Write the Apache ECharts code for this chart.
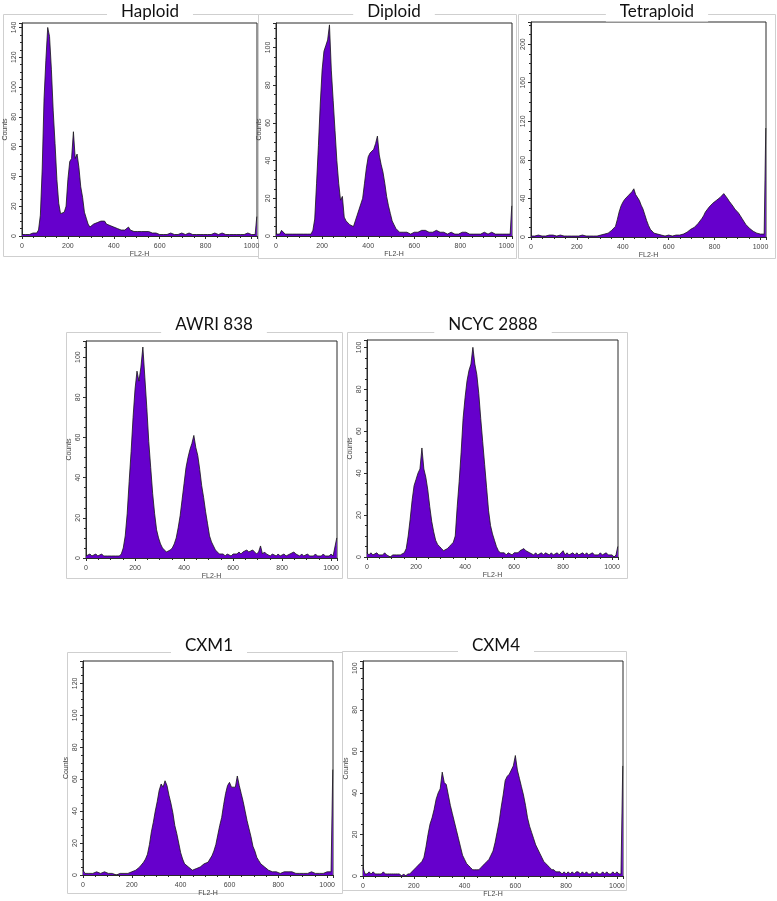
<!DOCTYPE html>
<html>
<head>
<meta charset="utf-8">
<script src="https://cdn.jsdelivr.net/npm/echarts@6/dist/echarts.min.js"></script>
<style>
html,body{margin:0;padding:0;background:#fff;}
#c{width:777px;height:901px;}
</style>
</head>
<body>
<div id="c"></div>
<script>
// ---- data (counts per 8-channel bin, channels 0..1016) ----
const binWidth = 8;
const xTicks = [0, 200, 400, 600, 800, 1000];
const titles = ['Haploid', 'Diploid', 'Tetraploid', 'AWRI 838', 'NCYC 2888', 'CXM1', 'CXM4'];

const haploid = [
  1,0,1,2,1,1,2,1,2,4,14,45,92,118,140,134,
  112,84,62,38,22,15,14,16,20,38,50,52,70,52,55,46,
  33,26,16,12,8,6,7,8,7,9,8,10,9,10,8,9,
  7,8,6,7,5,5,4,5,4,5,6,4,4,3,4,3,
  4,3,2,3,4,3,3,2,3,2,2,1,2,1,2,1,
  1,2,1,1,2,1,1,2,1,1,1,2,1,1,2,1,
  1,1,2,1,1,1,2,1,1,2,1,1,1,2,1,1,
  2,1,1,1,2,1,1,1,2,1,1,2,1,1,2,1
];
const diploid = [
  1,2,1,3,2,1,2,1,1,1,2,1,1,1,1,1,
  1,1,1,1,3,9,28,48,70,88,98,101,104,112,88,72,
  56,40,28,19,21,10,8,7,6,5,5,8,11,14,17,20,
  28,36,42,44,45,46,49,53,43,38,34,28,21,16,12,8,
  6,4,3,2,2,2,1,2,2,1,2,2,3,2,2,3,
  2,3,2,2,3,2,2,3,2,2,1,2,2,1,1,2,
  1,1,2,1,1,2,1,2,1,1,2,1,1,1,2,1,
  1,2,1,1,1,2,1,1,2,1,1,1,2,1,1,1
];
const tetraploid = [
  1,2,1,1,2,1,1,1,1,1,2,1,2,1,1,1,
  2,1,1,1,1,1,1,2,1,1,1,1,2,1,1,1,
  1,1,1,2,1,2,2,2,3,3,4,5,7,9,11,18,
  26,32,36,39,41,43,44,47,50,44,42,38,33,29,23,17,
  12,8,6,4,3,3,2,2,2,1,2,2,2,1,2,2,
  3,2,3,3,4,5,6,8,9,10,12,14,16,19,22,26,
  28,31,33,35,37,38,39,41,43,45,44,40,37,35,32,29,
  27,25,22,19,16,13,11,9,7,6,5,4,4,3,3,3
];
const awri838 = [
  1,1,2,1,1,2,1,1,2,1,1,1,1,1,1,1,
  1,1,2,5,11,22,38,53,70,84,93,88,95,105,90,75,
  58,45,32,22,14,10,7,5,4,3,3,4,5,7,10,15,
  21,29,37,45,50,54,57,61,55,51,44,36,30,23,17,11,
  8,6,4,3,2,2,2,1,2,2,1,2,2,2,3,2,
  3,3,4,3,3,4,3,2,3,6,2,3,2,2,1,2,
  2,1,2,1,1,2,1,1,2,2,3,2,2,1,2,1,
  1,2,1,1,1,2,1,1,1,2,1,1,1,2,1,1
];
const ncyc2888 = [
  2,1,2,1,1,2,1,1,1,2,1,1,0,1,1,1,
  1,1,1,2,4,10,18,27,34,37,40,42,52,42,38,32,
  24,17,12,8,6,5,4,3,3,4,5,6,7,10,24,36,
  50,66,76,84,89,92,100,92,87,78,66,55,44,33,22,15,
  11,8,5,3,2,2,2,1,2,2,1,2,2,2,3,3,
  4,3,3,2,2,1,2,1,1,2,1,2,2,1,2,1,
  1,2,1,2,3,1,2,1,1,2,1,2,1,1,2,1,
  2,1,1,2,1,1,1,2,1,1,2,1,1,1,0,1
];
const cxm1 = [
  3,1,2,1,2,1,1,2,1,1,1,2,1,1,0,1,
  1,0,1,1,0,1,1,1,1,2,2,3,4,5,6,8,
  10,13,19,27,33,40,46,53,57,55,59,56,50,45,39,31,
  26,20,14,10,7,6,5,4,3,3,4,4,5,5,7,7,
  8,10,12,15,19,25,31,36,44,51,56,58,55,56,55,62,
  56,51,46,40,34,29,24,18,15,11,9,7,6,5,4,3,
  3,2,3,2,2,1,2,2,1,2,1,2,2,1,2,1,
  2,1,2,1,2,2,1,1,2,1,2,1,2,2,1,2
];
const cxm4 = [
  4,1,1,2,1,2,1,1,1,1,2,1,1,1,1,1,
  1,1,1,0,1,0,1,1,2,3,4,5,6,7,9,14,
  20,25,28,32,37,40,42,50,45,44,39,34,30,26,22,18,
  14,10,8,6,5,4,3,3,3,3,4,5,6,7,8,10,
  12,16,21,26,33,39,46,48,49,51,53,58,51,47,43,39,
  34,28,24,21,18,15,13,11,9,7,6,5,4,3,3,2,
  2,2,1,2,1,2,1,2,1,2,2,1,2,1,2,1,
  1,2,1,2,1,1,2,1,2,1,1,2,1,2,1,1
];
// off-scale events piled in the last channel (1023)
const lastChannel = [13, 16, 113, 10, 5, 66, 53];
const yMax = [143, 113, 223, 108, 103.5, 134, 103.5];
const yStep = [20, 20, 40, 20, 20, 20, 20];

const seriesData = [haploid, diploid, tetraploid, awri838, ncyc2888, cxm1, cxm4];

// ---- layout ----
const grids = [
  {left: 22, top: 23, width: 235, height: 213},
  {left: 276, top: 23, width: 236, height: 213},
  {left: 531, top: 22, width: 235, height: 215},
  {left: 86, top: 341, width: 251, height: 217},
  {left: 367, top: 340, width: 251, height: 217},
  {left: 83, top: 661, width: 250, height: 214},
  {left: 363, top: 661, width: 260, height: 215}
];
const frames = [
  [3, 14, 255, 242], [258, 14, 258, 244], [518, 14, 257, 244],
  [66, 332, 276, 246], [347, 332, 280, 246],
  [67, 652, 275, 241], [342, 651, 284, 239]
];
const titlePos = [[150, 12], [394, 12], [657, 12], [214, 325], [493, 325], [209, 646], [496, 646]];
const showCounts = [true, true, false, true, true, true, true];

const axisColor = '#2a2a2a';
const labelColor = '#444';
const labelFont = 'Liberation Sans';

const option = {
  animation: false,
  backgroundColor: '#fff',
  grid: [], xAxis: [], yAxis: [], series: [], graphic: []
};

seriesData.forEach((vals, i) => {
  option.grid.push(Object.assign({show: true, borderColor: axisColor, borderWidth: 1, backgroundColor: '#fff'}, grids[i]));
  option.xAxis.push({
    type: 'value', gridIndex: i, min: 0, max: 1024, interval: xTicks[1] - xTicks[0],
    name: 'FL2-H', nameLocation: 'middle', nameGap: 15,
    nameTextStyle: {fontSize: 7, color: labelColor, fontFamily: labelFont},
    axisLine: {show: true, onZero: false, lineStyle: {color: axisColor, width: 1}},
    axisTick: {show: true, length: 3, lineStyle: {color: axisColor}},
    minorTick: {show: true, splitNumber: 4, length: 2, lineStyle: {color: axisColor}},
    splitLine: {show: false},
    axisLabel: {fontSize: 7, color: labelColor, fontFamily: labelFont, margin: 7,
      formatter: v => xTicks.indexOf(v) >= 0 ? String(v) : ''}
  });
  option.yAxis.push({
    type: 'value', gridIndex: i, min: 0, max: yMax[i], interval: yStep[i],
    name: showCounts[i] ? 'Counts' : '', nameLocation: 'middle', nameGap: 13, nameRotate: 90,
    nameTextStyle: {fontSize: 7, color: labelColor, fontFamily: labelFont},
    axisLine: {show: true, onZero: false, lineStyle: {color: axisColor, width: 1}},
    axisTick: {show: true, length: 3, lineStyle: {color: axisColor}},
    minorTick: {show: true, splitNumber: 4, length: 2, lineStyle: {color: axisColor}},
    splitLine: {show: false},
    axisLabel: {fontSize: 7, color: labelColor, fontFamily: labelFont, margin: 4, rotate: 90,
      formatter: v => (v % yStep[i] === 0) ? String(v) : ''}
  });
  const pts = vals.map((v, k) => [k * binWidth, v]);
  pts.push([1023, lastChannel[i]]);
  option.series.push({
    type: 'line', xAxisIndex: i, yAxisIndex: i, data: pts,
    symbol: 'none', showSymbol: false, silent: true, clip: true,
    lineStyle: {color: '#151515', width: 0.8},
    areaStyle: {color: '#6600cc', opacity: 1}
  });
  const f = frames[i];
  option.graphic.push({
    type: 'rect', z: 0, silent: true,
    shape: {x: f[0] + 0.5, y: f[1] + 0.5, width: f[2], height: f[3]},
    style: {fill: null, stroke: '#cfcfcf', lineWidth: 1}
  });
  option.graphic.push({
    type: 'text', z: 10, silent: true, x: titlePos[i][0], y: titlePos[i][1],
    style: {text: titles[i], font: '17px Lato', fill: '#111', align: 'center', verticalAlign: 'middle',
      backgroundColor: '#fff', padding: [1, 14]}
  });
});

const chart = echarts.init(document.getElementById('c'), null, {renderer: 'canvas'});
chart.setOption(option);
</script>
</body>
</html>
